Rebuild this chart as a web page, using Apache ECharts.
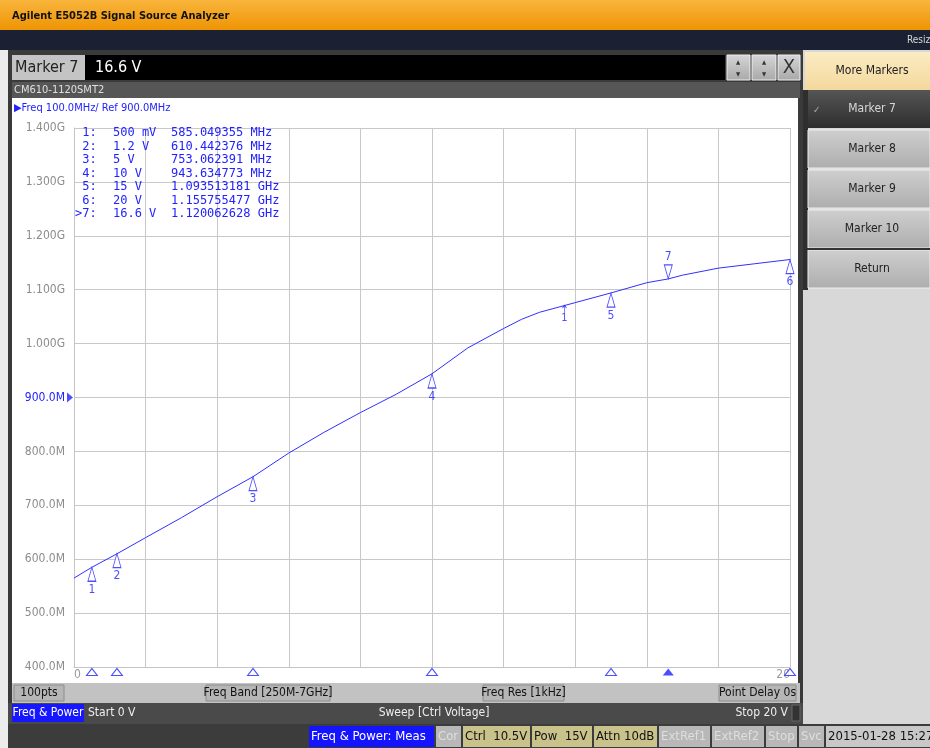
<!DOCTYPE html>
<html>
<head>
<meta charset="utf-8">
<script src="https://cdn.jsdelivr.net/npm/echarts@6/dist/echarts.min.js"></script>
<style>
  html, body { margin: 0; padding: 0; background: #e6e6e6; }
  #main { width: 930px; height: 748px; }
</style>
</head>
<body>
<div id="main"></div>
<script>
// trace data (ctrl voltage in V, frequency in MHz)
const ctrlVoltage = [0, 0.5, 1.2, 2, 3, 4, 5, 6, 7, 8, 9, 10, 11, 12, 12.5, 13, 14, 15, 16, 16.6, 17, 18, 19, 20];
const freqMHz = [565, 585, 610, 640, 677, 716, 753, 797, 836, 872, 906, 944, 992, 1028, 1045, 1058, 1076, 1094, 1113, 1120, 1127, 1140, 1148, 1156];

// markers
const markerIds = ['1', '2', '3', '4', '5', '6', '7'];
const markerVolt = [0.5, 1.2, 5, 10, 15, 20, 16.6];
const markerFreq = [585.049355, 610.442376, 753.062391, 943.634773, 1093.513181, 1155.755477, 1120.062628];
const markerVoltText = ['500 mV', '1.2 V', '5 V', '10 V', '15 V', '20 V', '16.6 V'];
const markerFreqText = ['585.049355 MHz', '610.442376 MHz', '753.062391 MHz', '943.634773 MHz',
  '1.093513181 GHz', '1.155755477 GHz', '1.120062628 GHz'];
const activeMarker = '7';
const ctrlMarker = [[13.7, 1071]];
const refLevel = 900;

// axes
const xMin = 0, xMax = 20, xStep = 2;
const yMin = 400, yMax = 1400, yStep = 100;

const BLUE = '#2222ff';
const FONT = 'DejaVu Sans Condensed, DejaVu Sans, sans-serif';
const MONO = 'DejaVu Sans Mono, monospace';

const chart = echarts.init(document.getElementById('main'));

const g = [];
function rect(x, y, w, h, fill, extra) {
  g.push(Object.assign({ type: 'rect', z: -10, shape: { x: x, y: y, width: w, height: h }, style: { fill: fill } }, extra || {}));
}
function text(x, y, str, st) {
  g.push({ type: 'text', z: 100, x: x, y: y,
    style: Object.assign({ text: str, fill: '#222', font: '12px ' + FONT, textVerticalAlign: 'middle' }, st || {}) });
}
function vgrad(a, b) {
  return new echarts.graphic.LinearGradient(0, 0, 0, 1, [{ offset: 0, color: a }, { offset: 1, color: b }]);
}

// window chrome
rect(0, 0, 930, 30, vgrad('#f9b53c', '#ee9404'));
text(12, 16, 'Agilent E5052B Signal Source Analyzer', { font: 'bold 11px ' + FONT, fill: '#111' });
rect(0, 30, 930, 20, '#1b2133');
text(907, 40, 'Resiz', { font: '10px ' + FONT, fill: '#d8d8d8' });
rect(0, 50, 8, 698, '#ececec');
rect(8, 50, 795, 675, '#3a3a3a');

// marker entry row
rect(12, 55, 73, 25, '#c4c4c4');
text(15, 68, 'Marker 7', { font: '16px ' + FONT, fill: '#222' });
rect(85, 55, 640, 25, '#000');
text(95, 68, '16.6 V', { font: '16px ' + FONT, fill: '#fff' });
rect(727, 55, 23, 25, vgrad('#d6d6d6', '#a8a8a8'), { style: { fill: vgrad('#d6d6d6', '#a8a8a8'), stroke: '#eee' } });
rect(752, 55, 24, 25, vgrad('#d6d6d6', '#a8a8a8'), { style: { fill: vgrad('#d6d6d6', '#a8a8a8'), stroke: '#eee' } });
rect(778, 55, 22, 25, vgrad('#d6d6d6', '#a8a8a8'), { style: { fill: vgrad('#d6d6d6', '#a8a8a8'), stroke: '#eee' } });
text(738, 62, '▲', { font: '6px ' + FONT, textAlign: 'center', fill: '#333' });
text(738, 74, '▼', { font: '6px ' + FONT, textAlign: 'center', fill: '#333' });
text(764, 62, '▲', { font: '6px ' + FONT, textAlign: 'center', fill: '#333' });
text(764, 74, '▼', { font: '6px ' + FONT, textAlign: 'center', fill: '#333' });
text(789, 68, 'X', { font: '20px ' + FONT, textAlign: 'center', fill: '#333' });

// trace title row + plot panel
rect(12, 82, 788, 16, '#565656');
text(14, 90, 'CM610-1120SMT2', { font: '11px ' + FONT, fill: '#e0e0e0' });
rect(12, 98, 786, 585, '#ffffff');
text(14, 108, '▶Freq 100.0MHz/ Ref 900.0MHz', { font: '11px ' + FONT, fill: BLUE });

// marker table
for (let i = 0; i < markerIds.length; i++) {
  const y = 133 + i * 13.5;
  const id = (markerIds[i] === activeMarker ? '>' : ' ') + markerIds[i] + ':';
  text(75, y, id, { font: '12px ' + MONO, fill: BLUE });
  text(113, y, markerVoltText[i], { font: '12px ' + MONO, fill: BLUE });
  text(171, y, markerFreqText[i], { font: '12px ' + MONO, fill: BLUE });
}

// softkey bar under plot
rect(12, 683, 788, 20, '#c2c2c2');
[[14, 50, '100pts'], [206, 124, 'Freq Band [250M-7GHz]'], [483, 81, 'Freq Res [1kHz]'], [719, 77, 'Point Delay 0s']].forEach(function (b) {
  g.push({ type: 'rect', z: -5, shape: { x: b[0], y: 685, width: b[1], height: 16 },
    style: { fill: '#b6b6b6', stroke: '#8c8c8c', lineWidth: 1 } });
  text(b[0] + b[1] / 2, 693, b[2], { textAlign: 'center', fill: '#111' });
});

// sweep row
rect(8, 703, 795, 21, '#4a4a4a');
rect(12, 704, 72, 18, '#1616ff');
text(48, 713, 'Freq & Power', { textAlign: 'center', fill: '#fff' });
text(88, 713, 'Start 0 V', { fill: '#eee' });
text(434, 713, 'Sweep [Ctrl Voltage]', { textAlign: 'center', fill: '#eee' });
text(788, 713, 'Stop 20 V', { textAlign: 'right', fill: '#eee' });
g.push({ type: 'rect', z: -5, shape: { x: 792, y: 705, width: 8, height: 16 }, style: { fill: '#333', stroke: '#666' } });

// status bar
rect(8, 724, 922, 24, '#3c3c3c');
[[309, 125, 'Freq & Power: Meas', '#1414ff', '#fff'],
 [436, 25, 'Cor', '#b8b8b8', '#dedede'],
 [463, 67, 'Ctrl  10.5V', '#c9c28a', '#111'],
 [532, 60, 'Pow  15V', '#c9c28a', '#111'],
 [594, 63, 'Attn 10dB', '#c9c28a', '#111'],
 [659, 51, 'ExtRef1', '#b8b8b8', '#dedede'],
 [712, 52, 'ExtRef2', '#b8b8b8', '#dedede'],
 [766, 31, 'Stop', '#b8b8b8', '#dedede'],
 [799, 25, 'Svc', '#b8b8b8', '#dedede'],
 [826, 110, '2015-01-28 15:27', '#c8c8c8', '#111']].forEach(function (c) {
  rect(c[0], 726, c[1], 21, c[3]);
  text(c[0] + 2, 737, c[2], { font: '13px ' + FONT, fill: c[4] });
});

// right softkey panel
rect(803, 50, 127, 674, '#d8d8d8');
rect(803, 90, 5, 200, '#2e2e2e');
rect(805, 52, 125, 38, vgrad('#fbecc4', '#f3d89c'));
text(872, 71, 'More Markers', { textAlign: 'center', fill: '#222' });
rect(808, 90, 122, 38, vgrad('#555555', '#2e2e2e'));
text(872, 109, 'Marker 7', { textAlign: 'center', fill: '#d8d8d8' });
text(813, 110, '✓', { font: '10px ' + FONT, fill: '#aaa' });
[[130, 'Marker 8'], [170, 'Marker 9'], [210, 'Marker 10'], [250, 'Return']].forEach(function (b) {
  rect(808, b[0], 122, 38, vgrad('#cfcfcf', '#adadad'), { style: { fill: vgrad('#cfcfcf', '#adadad'), stroke: '#eeeeee' } });
  text(872, b[0] + 19, b[1], { textAlign: 'center', fill: '#222' });
});
rect(808, 248, 122, 2, '#333');

// series data built from arrays
const trace = ctrlVoltage.map(function (v, i) { return [v, freqMHz[i]]; });
const openMarkers = [], activeMarks = [], stripOpen = [], stripActive = [];
markerIds.forEach(function (id, i) {
  const p = { name: id, value: [markerVolt[i], markerFreq[i]] };
  const s = { name: id, value: [markerVolt[i], yMin] };
  if (id === activeMarker) { activeMarks.push(p); stripActive.push(s); }
  else { openMarkers.push(p); stripOpen.push(s); }
});

const option = {
  animation: false,
  backgroundColor: 'transparent',
  graphic: g,
  grid: { left: 74, top: 128, width: 716, height: 539, show: false },
  xAxis: {
    type: 'value', min: xMin, max: xMax, interval: xStep,
    axisLine: { show: true, lineStyle: { color: '#c4c4c4' } },
    axisTick: { show: false },
    splitLine: { show: true, lineStyle: { color: '#c8c8c8', width: 1 } },
    axisLabel: {
      margin: 2, color: '#9a9a9a', fontSize: 12, fontFamily: FONT,
      alignMinLabel: 'left', alignMaxLabel: 'right',
      formatter: function (v) { return (v === xMin || v === xMax) ? String(v) : ''; }
    }
  },
  yAxis: {
    type: 'value', min: yMin, max: yMax, interval: yStep,
    axisLine: { show: true, lineStyle: { color: '#c4c4c4' } },
    axisTick: { show: false },
    splitLine: { show: true, lineStyle: { color: '#c8c8c8', width: 1 } },
    axisLabel: {
      margin: 9, color: '#8c8c8c', fontSize: 12, fontFamily: FONT,
      formatter: function (v) {
        const s = v >= 1000 ? (v / 1000).toFixed(3) + 'G' : v.toFixed(1) + 'M';
        return v === refLevel ? '{r|' + s + '}' : s;
      },
      rich: { r: { color: BLUE, fontSize: 12, fontFamily: FONT } }
    }
  },
  series: [
    {
      type: 'line', data: trace, symbol: 'none', z: 3,
      lineStyle: { color: '#3030ff', width: 1 }
    },
    {
      type: 'scatter', data: openMarkers, clip: false, z: 4,
      symbol: 'triangle', symbolSize: [8, 14], symbolOffset: [0, 7],
      itemStyle: { color: '#fff', borderColor: BLUE, borderWidth: 1 },
      label: { show: true, position: 'bottom', distance: 2, formatter: '{b}', color: BLUE, fontSize: 12, fontFamily: FONT }
    },
    {
      type: 'scatter', data: activeMarks, clip: false, z: 4,
      symbol: 'triangle', symbolRotate: 180, symbolSize: [8, 14], symbolOffset: [0, -7],
      itemStyle: { color: '#fff', borderColor: BLUE, borderWidth: 1 },
      label: { show: true, position: 'top', distance: 1, formatter: '{b}', color: BLUE, fontSize: 12, fontFamily: FONT }
    },
    {
      type: 'scatter', data: stripOpen, clip: false, z: 4,
      symbol: 'triangle', symbolSize: [11, 7], symbolOffset: [0, 5],
      itemStyle: { color: '#fff', borderColor: BLUE, borderWidth: 1 }
    },
    {
      type: 'scatter', data: stripActive, clip: false, z: 4,
      symbol: 'triangle', symbolSize: [11, 7], symbolOffset: [0, 5],
      itemStyle: { color: BLUE }
    },
    {
      type: 'scatter', data: ctrlMarker, clip: false, z: 4,
      symbol: 'path://M0,3 L2,0 L4,3 M2,0 L2,9', symbolSize: [4, 8], symbolOffset: [0, 4],
      itemStyle: { color: 'none', borderColor: BLUE, borderWidth: 1 },
      label: { show: true, position: 'bottom', distance: -4, formatter: '1', color: BLUE, fontSize: 11, fontFamily: FONT }
    },
    {
      type: 'scatter', data: [[xMin, refLevel]], clip: false, z: 4,
      symbol: 'path://M0,0 L10,5 L0,10 Z', symbolSize: [6, 10], symbolOffset: [-4, 0],
      itemStyle: { color: BLUE }
    }
  ]
};

chart.setOption(option);
</script>
</body>
</html>
